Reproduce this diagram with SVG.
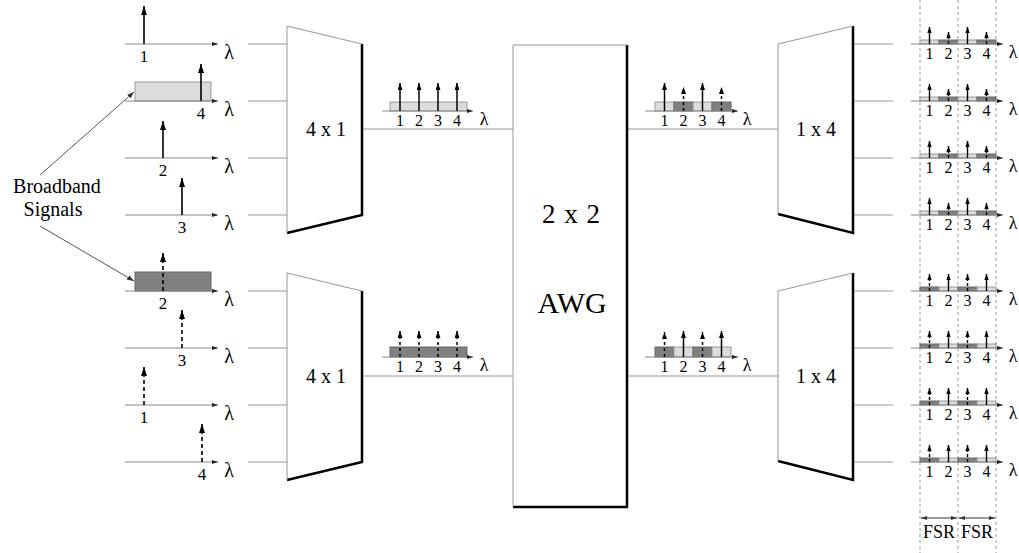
<svg xmlns="http://www.w3.org/2000/svg" width="1019" height="553" viewBox="0 0 1019 553">
<style>
text{font-family:"Liberation Serif","Times New Roman",serif;fill:#000;text-anchor:middle}
.ax{stroke:#888;stroke-width:1;fill:none;marker-end:url(#ha)}
.cn{stroke:#999;stroke-width:1;fill:none}
.sl{stroke:#000;stroke-width:1.6;fill:none;marker-end:url(#hL)}
.dl{stroke:#000;stroke-width:1.6;fill:none;stroke-dasharray:4,3;marker-end:url(#hL)}
.sm{stroke:#000;stroke-width:1.5;fill:none;marker-end:url(#hM)}
.dm{stroke:#000;stroke-width:1.5;fill:none;stroke-dasharray:3,3;marker-end:url(#hM)}
.sr{stroke:#000;stroke-width:1.4;fill:none;marker-end:url(#hS)}
.dr{stroke:#000;stroke-width:1.4;fill:none;stroke-dasharray:3,2;marker-end:url(#hS)}
.lt{fill:#dcdcdc;stroke:#999;stroke-width:1}
.dk{fill:#808080;stroke:#666;stroke-width:1}
.edge{stroke:#999;stroke-width:1;fill:none}
.bold{stroke:#000;stroke-width:2.5;fill:none}
.vd{stroke:#999;stroke-width:1;stroke-dasharray:3,3}
.ll{font-size:17px}
.ml{font-size:16px}
.lam{font-size:20px}
.lams{font-size:18px}
</style>
<defs>
<marker id="hL" markerUnits="userSpaceOnUse" viewBox="0 0 9 6" markerWidth="9" markerHeight="6" refX="9" refY="3" orient="auto"><path d="M0,0 L9,3 L0,6 z" fill="#000"/></marker>
<marker id="hM" markerUnits="userSpaceOnUse" viewBox="0 0 7 5" markerWidth="7" markerHeight="5" refX="7" refY="2.5" orient="auto"><path d="M0,0 L7,2.5 L0,5 z" fill="#000"/></marker>
<marker id="hS" markerUnits="userSpaceOnUse" viewBox="0 0 6 4.4" markerWidth="6" markerHeight="4.4" refX="6" refY="2.2" orient="auto"><path d="M0,0 L6,2.2 L0,4.4 z" fill="#000"/></marker>
<marker id="ha" markerUnits="userSpaceOnUse" viewBox="0 0 6 4" markerWidth="6" markerHeight="4" refX="6" refY="2" orient="auto"><path d="M0,0 L6,2 L0,4 z" fill="#222"/></marker>
<marker id="hb" markerUnits="userSpaceOnUse" viewBox="0 0 7 5" markerWidth="7" markerHeight="5" refX="7" refY="2.5" orient="auto"><path d="M0,0 L7,2.5 L0,5 z" fill="#333"/></marker>
<marker id="hf" markerUnits="userSpaceOnUse" viewBox="0 0 6 4" markerWidth="6" markerHeight="4" refX="6" refY="2" orient="auto-start-reverse"><path d="M0,0 L6,2 L0,4 z" fill="#333"/></marker>
</defs>

<g id="guides">
<line class="vd" x1="920" y1="0" x2="920" y2="553"/>
<line class="vd" x1="958" y1="0" x2="958" y2="553"/>
<line class="vd" x1="996" y1="0" x2="996" y2="553"/>
</g>

<g id="connectors">
<line class="cn" x1="248" y1="44" x2="287" y2="44"/>
<line class="cn" x1="248" y1="101" x2="287" y2="101"/>
<line class="cn" x1="248" y1="158" x2="287" y2="158"/>
<line class="cn" x1="248" y1="215" x2="287" y2="215"/>
<line class="cn" x1="248" y1="291" x2="287" y2="291"/>
<line class="cn" x1="248" y1="348" x2="287" y2="348"/>
<line class="cn" x1="248" y1="405" x2="287" y2="405"/>
<line class="cn" x1="248" y1="462" x2="287" y2="462"/>
<line class="cn" x1="362" y1="129" x2="513" y2="129"/>
<line class="cn" x1="362" y1="376" x2="513" y2="376"/>
<line class="cn" x1="627" y1="129" x2="778" y2="129"/>
<line class="cn" x1="627" y1="376" x2="778" y2="376"/>
<line class="cn" x1="853" y1="44" x2="893" y2="44"/>
<line class="cn" x1="853" y1="101" x2="893" y2="101"/>
<line class="cn" x1="853" y1="158" x2="893" y2="158"/>
<line class="cn" x1="853" y1="215" x2="893" y2="215"/>
<line class="cn" x1="853" y1="291" x2="893" y2="291"/>
<line class="cn" x1="853" y1="348" x2="893" y2="348"/>
<line class="cn" x1="853" y1="405" x2="893" y2="405"/>
<line class="cn" x1="853" y1="462" x2="893" y2="462"/>
<line x1="40" y1="175" x2="134" y2="92" stroke="#555" stroke-width="1" marker-end="url(#hb)"/>
<line x1="40" y1="226" x2="134" y2="281" stroke="#555" stroke-width="1" marker-end="url(#hb)"/>
</g>

<g id="broadband-label">
<text x="57" y="193" font-size="20">Broadband</text>
<text x="53" y="216" font-size="20">Signals</text>
</g>

<g id="sig-top">
<line class="ax" x1="125" y1="44" x2="218" y2="44"/>
<line class="sl" x1="144" y1="44" x2="144" y2="6"/>
<text class="ll" x="144" y="62">1</text>
<text class="lam" x="229" y="59">λ</text>

<rect class="lt" x="135" y="82" width="76" height="19"/>
<line class="ax" x1="125" y1="101" x2="218" y2="101"/>
<line class="sl" x1="201" y1="101" x2="201" y2="64"/>
<text class="ll" x="201" y="119">4</text>
<text class="lam" x="229" y="116">λ</text>

<line class="ax" x1="125" y1="158" x2="218" y2="158"/>
<line class="sl" x1="163" y1="158" x2="163" y2="121"/>
<text class="ll" x="163" y="176">2</text>
<text class="lam" x="229" y="173">λ</text>

<line class="ax" x1="125" y1="215" x2="218" y2="215"/>
<line class="sl" x1="182" y1="215" x2="182" y2="178"/>
<text class="ll" x="182" y="233">3</text>
<text class="lam" x="229" y="230">λ</text>
</g>

<g id="sig-bottom">
<rect class="dk" x="135" y="272" width="76" height="19"/>
<line class="ax" x1="125" y1="291" x2="218" y2="291"/>
<line class="dl" x1="163" y1="291" x2="163" y2="253"/>
<text class="ll" x="163" y="309">2</text>
<text class="lam" x="229" y="306">λ</text>

<line class="ax" x1="125" y1="348" x2="218" y2="348"/>
<line class="dl" x1="182" y1="348" x2="182" y2="310"/>
<text class="ll" x="182" y="366">3</text>
<text class="lam" x="229" y="363">λ</text>

<line class="ax" x1="125" y1="405" x2="218" y2="405"/>
<line class="dl" x1="144" y1="405" x2="144" y2="367"/>
<text class="ll" x="144" y="423">1</text>
<text class="lam" x="229" y="420">λ</text>

<line class="ax" x1="125" y1="462" x2="218" y2="462"/>
<line class="dl" x1="202" y1="462" x2="202" y2="424"/>
<text class="ll" x="202" y="480">4</text>
<text class="lam" x="229" y="477">λ</text>
</g>

<g id="mux-top">
<path d="M362,44 L362,215 L287,233" class="bold"/>
<path d="M287,233 L287,26 L362,44" class="edge"/>
<text x="326" y="136" font-size="20">4 x 1</text>
</g>
<g id="mux-bottom">
<path d="M362,291 L362,462 L287,480" class="bold"/>
<path d="M287,480 L287,273 L362,291" class="edge"/>
<text x="326" y="383" font-size="20">4 x 1</text>
</g>

<g id="awg">
<path d="M627,45 L627,507 L513,507" class="bold"/>
<path d="M513,507 L513,45 L627,45" class="edge"/>
<text x="571" y="223" font-size="27" word-spacing="2">2 x 2</text>
<text x="572" y="313" font-size="30">AWG</text>
</g>

<g id="demux-top">
<path d="M853,26 L853,233 L778,214" class="bold"/>
<path d="M778,214 L778,44 L853,26" class="edge"/>
<text x="816" y="136" font-size="20">1 x 4</text>
</g>
<g id="demux-bottom">
<path d="M853,273 L853,480 L778,461" class="bold"/>
<path d="M778,461 L778,291 L853,273" class="edge"/>
<text x="816" y="383" font-size="20">1 x 4</text>
</g>

<g id="spec-mux-top">
<rect class="lt" x="390" y="102" width="77" height="9"/>
<line class="ax" x1="382" y1="111" x2="473" y2="111"/>
<line class="sm" x1="400" y1="111" x2="400" y2="83"/>
<line class="sm" x1="419" y1="111" x2="419" y2="83"/>
<line class="sm" x1="438" y1="111" x2="438" y2="83"/>
<line class="sm" x1="457" y1="111" x2="457" y2="83"/>
<text class="ml" x="400" y="126">1</text><text class="ml" x="419" y="126">2</text><text class="ml" x="438" y="126">3</text><text class="ml" x="457" y="126">4</text>
<text class="lams" x="484" y="125">λ</text>
</g>
<g id="spec-mux-bottom">
<rect class="dk" x="390" y="347" width="77" height="10"/>
<line class="ax" x1="382" y1="357" x2="473" y2="357"/>
<line class="dm" x1="400" y1="357" x2="400" y2="331"/>
<line class="dm" x1="419" y1="357" x2="419" y2="331"/>
<line class="dm" x1="438" y1="357" x2="438" y2="331"/>
<line class="dm" x1="457" y1="357" x2="457" y2="331"/>
<text class="ml" x="400" y="372">1</text><text class="ml" x="419" y="372">2</text><text class="ml" x="438" y="372">3</text><text class="ml" x="457" y="372">4</text>
<text class="lams" x="484" y="371">λ</text>
</g>

<g id="spec-awg-top">
<rect class="lt" x="655" y="102" width="19" height="9"/>
<rect class="dk" x="674" y="102" width="19" height="9"/>
<rect class="lt" x="693" y="102" width="19" height="9"/>
<rect class="dk" x="712" y="102" width="19" height="9"/>
<line class="ax" x1="645" y1="111" x2="738" y2="111"/>
<line class="sm" x1="664.5" y1="111" x2="664.5" y2="83"/>
<line class="dm" x1="683.5" y1="111" x2="683.5" y2="87"/>
<line class="sm" x1="702.5" y1="111" x2="702.5" y2="83"/>
<line class="dm" x1="721.5" y1="111" x2="721.5" y2="87"/>
<text class="ml" x="664.5" y="126">1</text><text class="ml" x="683.5" y="126">2</text><text class="ml" x="702.5" y="126">3</text><text class="ml" x="721.5" y="126">4</text>
<text class="lams" x="747" y="125">λ</text>
</g>
<g id="spec-awg-bottom">
<rect class="dk" x="655" y="347" width="19" height="10"/>
<rect class="lt" x="674" y="347" width="19" height="10"/>
<rect class="dk" x="693" y="347" width="19" height="10"/>
<rect class="lt" x="712" y="347" width="19" height="10"/>
<line class="ax" x1="645" y1="357" x2="738" y2="357"/>
<line class="dm" x1="664.5" y1="357" x2="664.5" y2="332"/>
<line class="sm" x1="683.5" y1="357" x2="683.5" y2="331"/>
<line class="dm" x1="702.5" y1="357" x2="702.5" y2="332"/>
<line class="sm" x1="721.5" y1="357" x2="721.5" y2="331"/>
<text class="ml" x="664.5" y="372">1</text><text class="ml" x="683.5" y="372">2</text><text class="ml" x="702.5" y="372">3</text><text class="ml" x="721.5" y="372">4</text>
<text class="lams" x="747" y="371">λ</text>
</g>

<g id="out-top">
<g id="out-t1">
<rect class="lt" x="920" y="40" width="19" height="4"/><rect class="dk" x="939" y="40" width="19" height="4"/><rect class="lt" x="958" y="40" width="19" height="4"/><rect class="dk" x="977" y="40" width="19" height="4"/>
<line class="ax" x1="911" y1="44" x2="1003" y2="44"/>
<line class="sr" x1="929.5" y1="44" x2="929.5" y2="27"/><line class="dr" x1="948.5" y1="44" x2="948.5" y2="32"/><line class="sr" x1="967.5" y1="44" x2="967.5" y2="27"/><line class="dr" x1="986.5" y1="44" x2="986.5" y2="32"/>
<text class="ml" x="929.5" y="59">1</text><text class="ml" x="948.5" y="59">2</text><text class="ml" x="967.5" y="59">3</text><text class="ml" x="986.5" y="59">4</text>
<text class="lams" x="1013" y="58">λ</text>
</g>
<g id="out-t2">
<rect class="lt" x="920" y="97" width="19" height="4"/><rect class="dk" x="939" y="97" width="19" height="4"/><rect class="lt" x="958" y="97" width="19" height="4"/><rect class="dk" x="977" y="97" width="19" height="4"/>
<line class="ax" x1="911" y1="101" x2="1003" y2="101"/>
<line class="sr" x1="929.5" y1="101" x2="929.5" y2="84"/><line class="dr" x1="948.5" y1="101" x2="948.5" y2="89"/><line class="sr" x1="967.5" y1="101" x2="967.5" y2="84"/><line class="dr" x1="986.5" y1="101" x2="986.5" y2="89"/>
<text class="ml" x="929.5" y="116">1</text><text class="ml" x="948.5" y="116">2</text><text class="ml" x="967.5" y="116">3</text><text class="ml" x="986.5" y="116">4</text>
<text class="lams" x="1013" y="115">λ</text>
</g>
<g id="out-t3">
<rect class="lt" x="920" y="154" width="19" height="4"/><rect class="dk" x="939" y="154" width="19" height="4"/><rect class="lt" x="958" y="154" width="19" height="4"/><rect class="dk" x="977" y="154" width="19" height="4"/>
<line class="ax" x1="911" y1="158" x2="1003" y2="158"/>
<line class="sr" x1="929.5" y1="158" x2="929.5" y2="141"/><line class="dr" x1="948.5" y1="158" x2="948.5" y2="146"/><line class="sr" x1="967.5" y1="158" x2="967.5" y2="141"/><line class="dr" x1="986.5" y1="158" x2="986.5" y2="146"/>
<text class="ml" x="929.5" y="173">1</text><text class="ml" x="948.5" y="173">2</text><text class="ml" x="967.5" y="173">3</text><text class="ml" x="986.5" y="173">4</text>
<text class="lams" x="1013" y="172">λ</text>
</g>
<g id="out-t4">
<rect class="lt" x="920" y="211" width="19" height="4"/><rect class="dk" x="939" y="211" width="19" height="4"/><rect class="lt" x="958" y="211" width="19" height="4"/><rect class="dk" x="977" y="211" width="19" height="4"/>
<line class="ax" x1="911" y1="215" x2="1003" y2="215"/>
<line class="sr" x1="929.5" y1="215" x2="929.5" y2="198"/><line class="dr" x1="948.5" y1="215" x2="948.5" y2="203"/><line class="sr" x1="967.5" y1="215" x2="967.5" y2="198"/><line class="dr" x1="986.5" y1="215" x2="986.5" y2="203"/>
<text class="ml" x="929.5" y="230">1</text><text class="ml" x="948.5" y="230">2</text><text class="ml" x="967.5" y="230">3</text><text class="ml" x="986.5" y="230">4</text>
<text class="lams" x="1013" y="229">λ</text>
</g>
</g>

<g id="out-bottom">
<g id="out-b1">
<rect class="dk" x="920" y="287" width="19" height="4"/><rect class="lt" x="939" y="287" width="19" height="4"/><rect class="dk" x="958" y="287" width="19" height="4"/><rect class="lt" x="977" y="287" width="19" height="4"/>
<line class="ax" x1="911" y1="291" x2="1003" y2="291"/>
<line class="dr" x1="929.5" y1="291" x2="929.5" y2="274"/><line class="sr" x1="948.5" y1="291" x2="948.5" y2="274"/><line class="dr" x1="967.5" y1="291" x2="967.5" y2="274"/><line class="sr" x1="986.5" y1="291" x2="986.5" y2="274"/>
<text class="ml" x="929.5" y="306">1</text><text class="ml" x="948.5" y="306">2</text><text class="ml" x="967.5" y="306">3</text><text class="ml" x="986.5" y="306">4</text>
<text class="lams" x="1013" y="305">λ</text>
</g>
<g id="out-b2">
<rect class="dk" x="920" y="344" width="19" height="4"/><rect class="lt" x="939" y="344" width="19" height="4"/><rect class="dk" x="958" y="344" width="19" height="4"/><rect class="lt" x="977" y="344" width="19" height="4"/>
<line class="ax" x1="911" y1="348" x2="1003" y2="348"/>
<line class="dr" x1="929.5" y1="348" x2="929.5" y2="331"/><line class="sr" x1="948.5" y1="348" x2="948.5" y2="331"/><line class="dr" x1="967.5" y1="348" x2="967.5" y2="331"/><line class="sr" x1="986.5" y1="348" x2="986.5" y2="331"/>
<text class="ml" x="929.5" y="363">1</text><text class="ml" x="948.5" y="363">2</text><text class="ml" x="967.5" y="363">3</text><text class="ml" x="986.5" y="363">4</text>
<text class="lams" x="1013" y="362">λ</text>
</g>
<g id="out-b3">
<rect class="dk" x="920" y="401" width="19" height="4"/><rect class="lt" x="939" y="401" width="19" height="4"/><rect class="dk" x="958" y="401" width="19" height="4"/><rect class="lt" x="977" y="401" width="19" height="4"/>
<line class="ax" x1="911" y1="405" x2="1003" y2="405"/>
<line class="dr" x1="929.5" y1="405" x2="929.5" y2="388"/><line class="sr" x1="948.5" y1="405" x2="948.5" y2="388"/><line class="dr" x1="967.5" y1="405" x2="967.5" y2="388"/><line class="sr" x1="986.5" y1="405" x2="986.5" y2="388"/>
<text class="ml" x="929.5" y="420">1</text><text class="ml" x="948.5" y="420">2</text><text class="ml" x="967.5" y="420">3</text><text class="ml" x="986.5" y="420">4</text>
<text class="lams" x="1013" y="419">λ</text>
</g>
<g id="out-b4">
<rect class="dk" x="920" y="458" width="19" height="4"/><rect class="lt" x="939" y="458" width="19" height="4"/><rect class="dk" x="958" y="458" width="19" height="4"/><rect class="lt" x="977" y="458" width="19" height="4"/>
<line class="ax" x1="911" y1="462" x2="1003" y2="462"/>
<line class="dr" x1="929.5" y1="462" x2="929.5" y2="445"/><line class="sr" x1="948.5" y1="462" x2="948.5" y2="445"/><line class="dr" x1="967.5" y1="462" x2="967.5" y2="445"/><line class="sr" x1="986.5" y1="462" x2="986.5" y2="445"/>
<text class="ml" x="929.5" y="477">1</text><text class="ml" x="948.5" y="477">2</text><text class="ml" x="967.5" y="477">3</text><text class="ml" x="986.5" y="477">4</text>
<text class="lams" x="1013" y="476">λ</text>
</g>
</g>

<g id="fsr">
<line x1="921" y1="518" x2="957" y2="518" stroke="#333" stroke-width="1" marker-start="url(#hf)" marker-end="url(#hf)"/>
<line x1="959" y1="518" x2="995" y2="518" stroke="#333" stroke-width="1" marker-start="url(#hf)" marker-end="url(#hf)"/>
<text x="939" y="538" font-size="18">FSR</text>
<text x="977" y="538" font-size="18">FSR</text>
</g>
</svg>
